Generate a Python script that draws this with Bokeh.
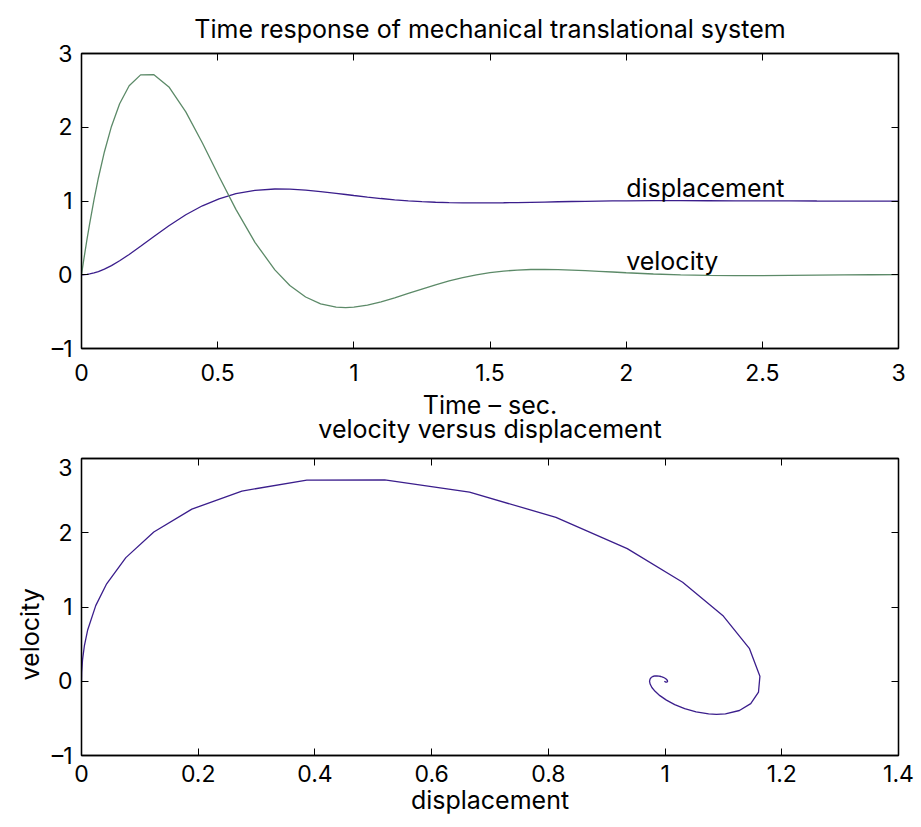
from bokeh.plotting import figure
from bokeh.layouts import column
from bokeh.models import (LinearAxis, Range1d, FixedTicker, ColumnDataSource,
                          CustomLabelingPolicy, Title)
from bokeh.core.properties import value
from bokeh.embed import file_html
from bokeh.resources import INLINE

# ---- data ----
time = [0, 0.005, 0.012, 0.02, 0.03, 0.046, 0.062, 0.084, 0.11, 0.14,
        0.175, 0.217, 0.266, 0.321, 0.383, 0.444, 0.505, 0.567, 0.637, 0.71,
        0.765, 0.823, 0.878, 0.935, 0.97, 1.0, 1.05, 1.1, 1.15, 1.2,
        1.25, 1.3, 1.35, 1.4, 1.45, 1.5, 1.55, 1.6, 1.65, 1.7,
        1.75, 1.8, 1.85, 1.9, 1.95, 2.0, 2.1, 2.2, 2.3, 2.4,
        2.5, 2.6, 2.7, 2.8, 2.9, 3.0]
displacement = [0, 0.0003, 0.0018, 0.0049, 0.0107, 0.0244, 0.0431, 0.0760, 0.1239, 0.1891,
                0.2748, 0.3861, 0.5196, 0.6649, 0.8130, 0.9352, 1.0301, 1.0988, 1.1447, 1.1625,
                1.1601, 1.1468, 1.1274, 1.1034, 1.0880, 1.0746, 1.0532, 1.0336, 1.0165, 1.0023,
                0.9911, 0.9829, 0.9774, 0.9744, 0.9734, 0.9742, 0.9761, 0.9790, 0.9824, 0.9860,
                0.9896, 0.9929, 0.9959, 0.9985, 1.0006, 1.0022, 1.0040, 1.0043, 1.0037, 1.0026,
                1.0014, 1.0005, 0.9998, 0.9994, 0.9993, 0.9994]
velocity = [0, 0.123, 0.291, 0.475, 0.694, 1.018, 1.312, 1.665, 2.011, 2.318,
            2.562, 2.710, 2.713, 2.546, 2.208, 1.786, 1.333, 0.887, 0.439, 0.066,
            -0.145, -0.302, -0.394, -0.439, -0.445, -0.440, -0.413, -0.369, -0.314, -0.254,
            -0.194, -0.136, -0.084, -0.038, -0.001, 0.029, 0.050, 0.064, 0.071, 0.073,
            0.070, 0.064, 0.056, 0.047, 0.037, 0.027, 0.010, -0.002, -0.009, -0.012,
            -0.011, -0.008, -0.005, -0.002, 0.000, 0.001]

top_x_ticks = [0, 0.5, 1, 1.5, 2, 2.5, 3]
top_x_labels = ["0", "0.5", "1", "1.5", "2", "2.5", "3"]
bottom_x_ticks = [0, 0.2, 0.4, 0.6, 0.8, 1, 1.2, 1.4]
bottom_x_labels = ["0", "0.2", "0.4", "0.6", "0.8", "1", "1.2", "1.4"]
y_ticks = [-1, 0, 1, 2, 3]
y_labels = ["\u20131", "0", "1", "2", "3"]

curve_labels = ["displacement", "velocity"]
curve_label_x = [2.0, 2.0]
curve_label_y = [1.18, 0.185]

FONT = "Inter"
TICK_FS = "23px"
TEXT_FS = "25px"
DISP_COLOR = "#3b1e8c"
VEL_COLOR = "#5c8a68"


def style_axis(ax, ticks, labels, show=True, tick_standoff=9):
    ax.ticker = FixedTicker(ticks=ticks)
    ax.major_tick_in = 7
    ax.major_tick_out = 0
    ax.minor_tick_in = 0
    ax.minor_tick_out = 0
    ax.major_tick_line_color = "black"
    ax.major_tick_line_width = 1
    ax.axis_line_color = "black"
    ax.axis_line_width = 1.3
    ax.major_label_text_font = FONT
    ax.major_label_text_color = "black"
    ax.axis_label_text_font = FONT
    ax.axis_label_text_font_size = TEXT_FS
    ax.axis_label_text_font_style = "normal"
    ax.axis_label_text_color = "black"
    ax.axis_label_standoff = 0
    if show:
        ax.major_label_overrides = {t: l for t, l in zip(ticks, labels)}
        ax.major_label_text_font_size = TICK_FS
        ax.major_label_standoff = tick_standoff
    else:
        ax.major_label_text_font_size = "0px"
        ax.major_label_standoff = 0
        ax.major_label_policy = CustomLabelingPolicy(code="return new Set()")


def make_fig(title, xr, yr, xticks, xlabels, border_top, frame_h, border_bottom,
             title_standoff, x_tick_standoff):
    p = figure(frame_width=817, frame_height=frame_h,
               min_border_left=81, min_border_right=23,
               min_border_top=border_top, min_border_bottom=border_bottom,
               x_range=Range1d(*xr), y_range=Range1d(*yr),
               output_backend="svg", toolbar_location=None,
               background_fill_color="white", border_fill_color="white",
               title=title)
    p.xgrid.visible = False
    p.ygrid.visible = False
    p.outline_line_color = "black"
    p.outline_line_width = 1.3
    p.outline_line_alpha = 1
    if title is not None:
        p.title.align = "center"
        p.title.text_font = FONT
        p.title.text_font_size = TEXT_FS
        p.title.text_font_style = "normal"
        p.title.text_color = "black"
        p.title.standoff = title_standoff
    xb = p.below[0]
    yl = p.left[0]
    style_axis(xb, xticks, xlabels, tick_standoff=x_tick_standoff)
    style_axis(yl, y_ticks, y_labels)
    top = LinearAxis()
    style_axis(top, xticks, xlabels, show=False)
    p.add_layout(top, "above")
    right = LinearAxis()
    style_axis(right, y_ticks, y_labels, show=False)
    p.add_layout(right, "right")
    return p, xb, yl


src = ColumnDataSource(data=dict(t=time, d=displacement, v=velocity))

# upper panel: time response
p1, p1x, p1y = make_fig("Time response of mechanical translational system",
                        (0, 3), (-1, 3), top_x_ticks, top_x_labels,
                        53, 295, 105, 20, 15)
p1.line("t", "d", source=src, line_color=DISP_COLOR, line_width=1.3)
p1.line("t", "v", source=src, line_color=VEL_COLOR, line_width=1.3)
p1.text(x=curve_label_x, y=curve_label_y, text=curve_labels,
        text_font=value(FONT), text_font_size=TEXT_FS, text_color="black",
        text_baseline="alphabetic", text_align="left")
p1x.axis_label = "Time \u2013 sec."
p1x.axis_label_standoff = 6

# title of the lower panel sits tight under the upper panel's x label
t2 = Title(text="velocity versus displacement", align="center",
           text_font=FONT, text_font_size=TEXT_FS, text_font_style="normal",
           text_color="black", standoff=-21.2)
p1.add_layout(t2, "below")

# lower panel: phase plane
p2, p2x, p2y = make_fig(None, (0, 1.4), (-1, 3), bottom_x_ticks, bottom_x_labels,
                        5, 297, 70, 0, 9)
p2.line("d", "v", source=src, line_color=DISP_COLOR, line_width=1.3)
p2x.axis_label = "displacement"

# y label of the lower panel (sits lower than centre, as in the reference)
ylab = Title(text="velocity", align="left", offset=75,
             text_font=FONT, text_font_size=TEXT_FS, text_font_style="normal",
             text_color="black", standoff=8)
p2.add_layout(ylab, "left")

layout = column(p1, p2, spacing=0)
open("out.html", "w").write(file_html(layout, INLINE))
